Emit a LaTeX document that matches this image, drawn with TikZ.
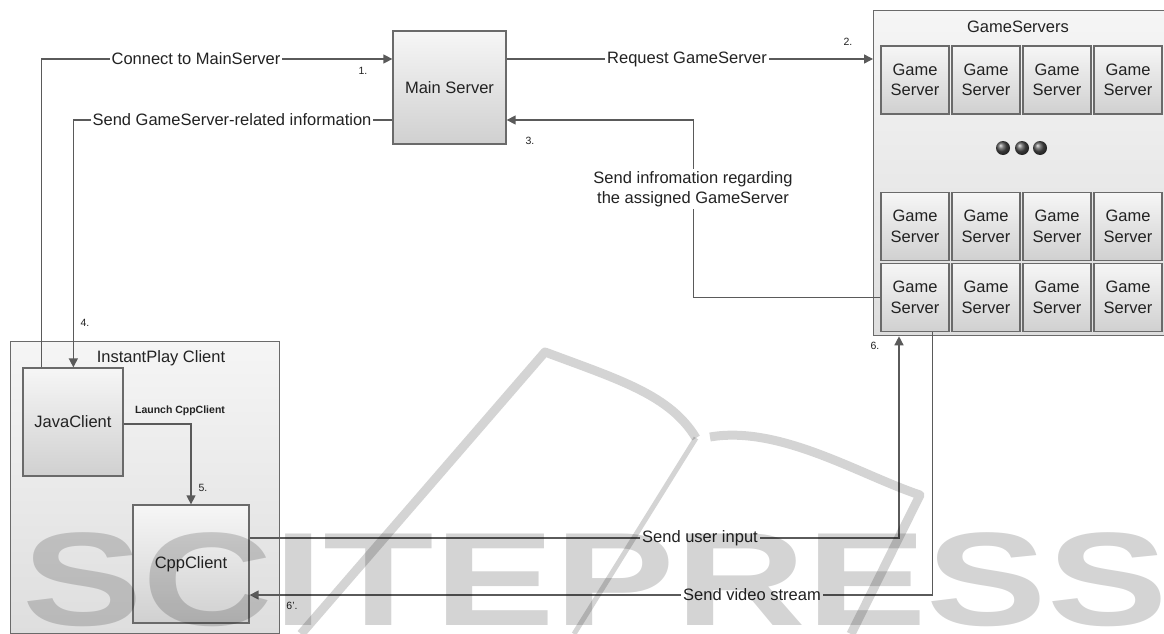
\documentclass[tikz,border=0pt]{standalone}
\usepackage{fontspec}
\setmainfont{Liberation Sans}
\usetikzlibrary{arrows.meta,shadings}
\definecolor{bordc}{HTML}{6A6A6A}
\definecolor{linec}{HTML}{5A5A5A}
\definecolor{topc}{HTML}{F6F6F6}
\definecolor{botc}{HTML}{D0D0D0}
\definecolor{otop}{HTML}{F5F5F5}
\definecolor{obot}{HTML}{DEDEDE}
\definecolor{txtc}{HTML}{222222}
\definecolor{dotc}{HTML}{505050}
\newcommand{\bigfont}{\fontsize{16.5}{20.5}\selectfont}
\newcommand{\smallfont}{\fontsize{10.5}{12}\selectfont}
\tikzset{
  box/.style={draw=bordc, line width=1.3pt, top color=topc, bottom color=botc, inner sep=0pt, font=\bigfont, text=txtc, align=center},
  outerbox/.style={draw=bordc, line width=1.3pt, top color=otop, bottom color=obot, inner sep=0pt},
  gsbox/.style={box, minimum width=68, minimum height=68},
  conn/.style={draw=linec, line width=1.4pt, -{Triangle[length=9pt,width=9pt]}},
  lbl/.style={fill=white, inner sep=2pt, font=\bigfont, text=txtc, align=center},
  numlbl/.style={font=\smallfont, text=txtc, inner sep=0pt},
  title/.style={font=\bigfont, text=txtc, inner sep=0pt}
}
\begin{document}
\begin{tikzpicture}[x=1pt,y=-1pt]
\useasboundingbox (0,0) rectangle (1164,634);
\fill[white] (0,0) rectangle (1164,634);

% containers
\node[outerbox, minimum width=296, minimum height=325, anchor=north west] (gs) at (873,10) {};
\node[title] (gstitle) at (1018,27) {GameServers};
\node[outerbox, minimum width=269, minimum height=292, anchor=north west] (client) at (10,341) {};
\node[title] (cltitle) at (161,358) {InstantPlay Client};

% main nodes
\node[box, minimum width=113, minimum height=113] (main) at (449.5,87.5) {Main Server};
\node[box, minimum width=100, minimum height=108] (java) at (73,422) {JavaClient};
\node[box, minimum width=116, minimum height=118] (cpp) at (191,564) {CppClient};

% game servers
\foreach \r/\y in {1/80,2/226.5,3/297.5}{
  \foreach \c/\x in {1/915,2/986,3/1057,4/1128}{
    \node[gsbox] (gs-\r-\c) at (\x,\y) {Game\\Server};
  }
}
\foreach \x in {1003,1022,1040}{
  \shade[ball color=dotc] (\x,148) circle (7);
}

% connectors
\draw[conn] ([xshift=19pt]java.north west) |- ([yshift=28.5pt]main.west);
\node[lbl] (l1) at (196,59) {Connect to MainServer};
\node[numlbl] (n1) at (363,71) {1.};

\draw[conn] ([yshift=28.5pt]main.east) -- ([yshift=28.5pt]main.east -| gs.west);
\node[lbl] (l2) at (687,59) {Request GameServer};
\node[numlbl] (n2) at (848,42) {2.};

\draw[conn] (gs-3-1.west) -| ([xshift=187pt,yshift=-32.5pt]main.east) -- ([yshift=-32.5pt]main.east);
\node[lbl] (l3) at (693,189) {Send infromation regarding\\the assigned GameServer};
\node[numlbl] (n3) at (530,141) {3.};

\draw[conn] ([yshift=-32.5pt]main.west) -| ([xshift=51pt]java.north west);
\node[lbl] (l4) at (232,120) {Send GameServer-related information};
\node[numlbl] (n4) at (85,323) {4.};

\draw[conn] ([yshift=-2pt]java.east) -| (cpp.north);
\node[font=\fontsize{10.5}{12}\selectfont\bfseries, text=txtc, inner sep=0pt] (l5) at (180,411) {Launch CppClient};
\node[numlbl] (n5) at (203,488) {5.};

\draw[conn] ([yshift=26pt]cpp.east) -| ([xshift=26pt]gs.south west);
\node[lbl] (l6) at (700,538) {Send user input};
\node[numlbl] (n6) at (875,346) {6.};

\draw[conn] ([xshift=-17pt]gs-3-1.south east) |- ([yshift=-31pt]cpp.east);
\node[lbl] (l7) at (752,595) {Send video stream};
\node[numlbl] (n7) at (292,606) {6'.};

% watermark
\begin{scope}[opacity=0.17]
  \node[font=\fontsize{133}{133}\selectfont\bfseries, xscale=1.36, anchor=base west, inner sep=0pt] (wm) at (22,625) {SCITEPRESS};
  \draw[line width=9pt, line join=round] (301,634) -- (545,352) .. controls (620,380) and (670,395) .. (696,438);
  \draw[line width=9pt, line join=round] (710,437) .. controls (780,425) and (860,475) .. (920,495) -- (851,634);
  \draw[line width=5pt] (696,438) -- (574,634);
\end{scope}
\end{tikzpicture}
\end{document}
